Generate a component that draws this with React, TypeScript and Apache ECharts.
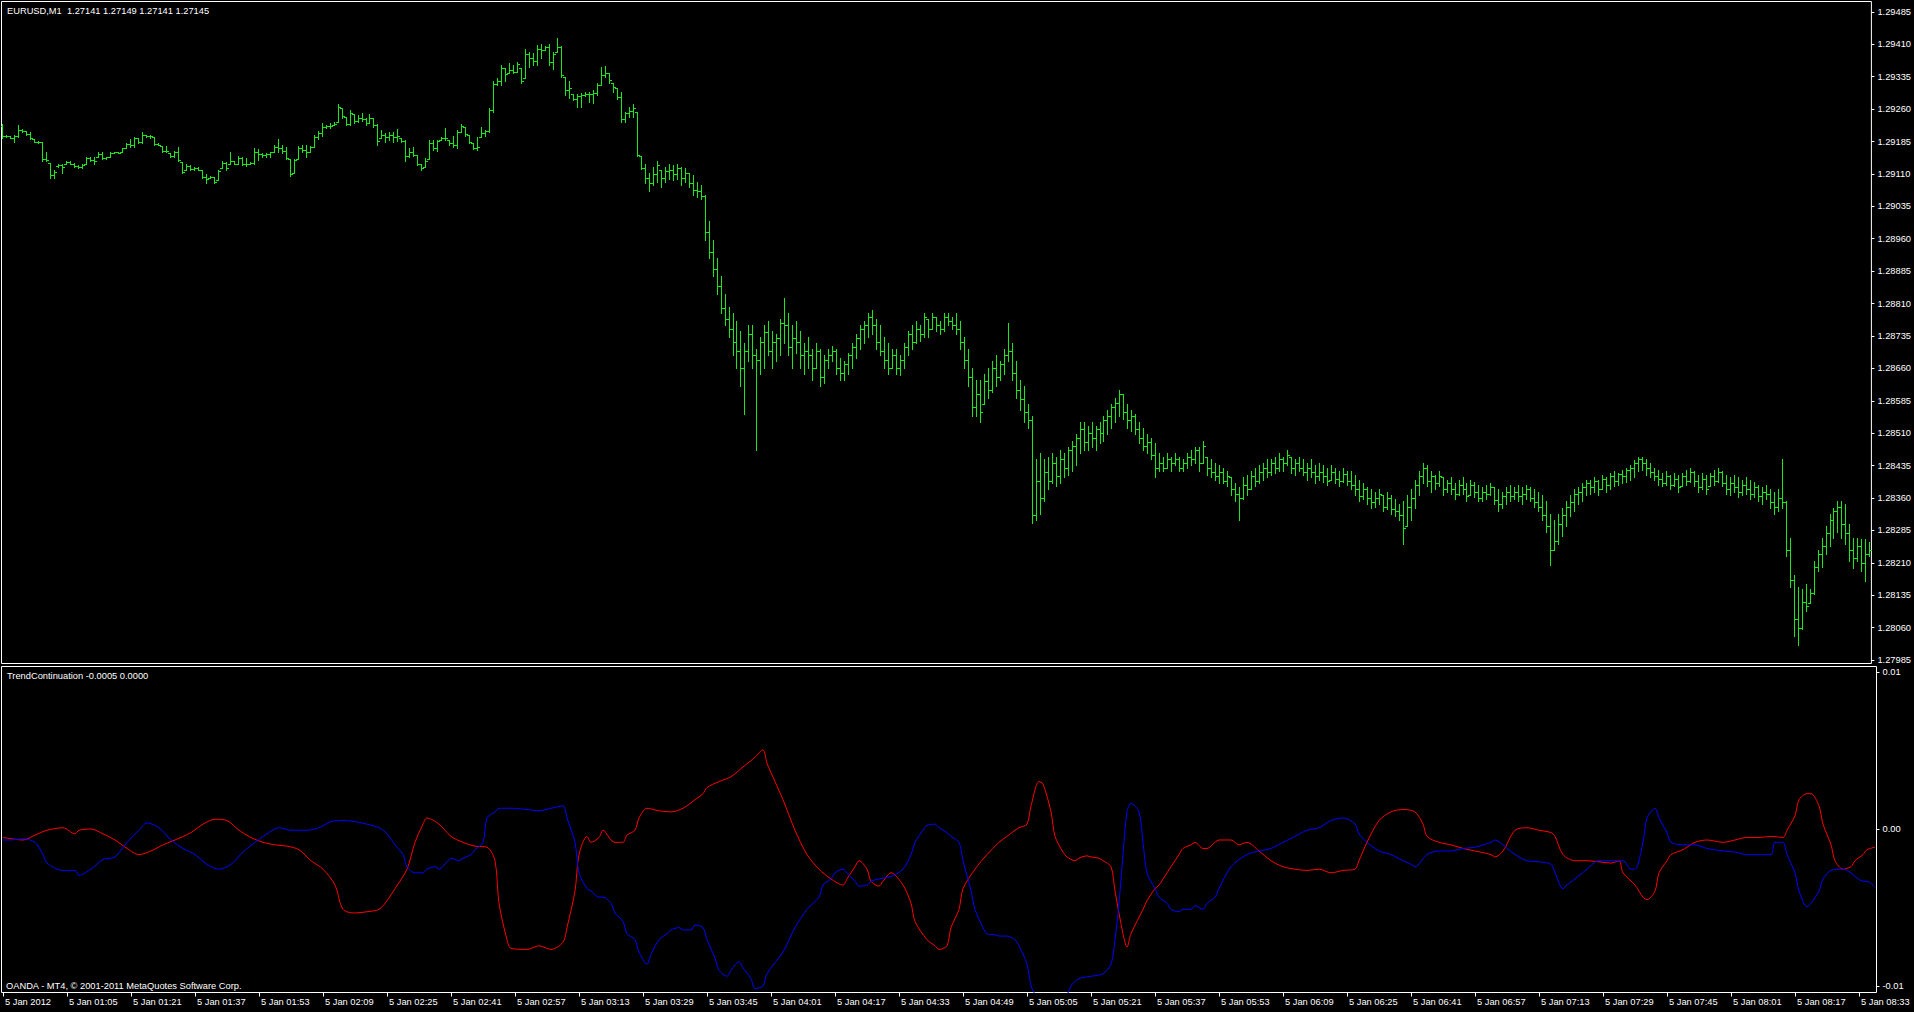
import React, { useEffect, useRef } from "react";
import * as echarts from "echarts";

// Prices are stored in points (0.00001) above BASE_PRICE
const BASE_PRICE = 1.27;

const barHigh = [
  2226,2200,2198,2200,2223,2214,2209,2206,2191,2186,
  2185,2160,2136,2119,2132,2132,2140,2140,2136,2131,
  2134,2150,2148,2150,2160,2160,2150,2161,2161,2161,
  2171,2181,2191,2196,2192,2206,2200,2200,2196,2181,
  2175,2175,2158,2163,2173,2137,2132,2131,2127,2127,
  2119,2109,2106,2104,2119,2140,2138,2161,2140,2152,
  2150,2146,2137,2169,2168,2158,2158,2161,2178,2191,
  2178,2173,2145,2145,2175,2177,2177,2175,2200,2209,
  2227,2223,2227,2229,2272,2262,2241,2257,2249,2247,
  2250,2239,2249,2239,2226,2212,2204,2208,2208,2215,
  2193,2189,2170,2172,2154,2133,2146,2189,2189,2189,
  2195,2216,2189,2198,2212,2226,2218,2200,2181,2195,
  2218,2212,2262,2324,2331,2362,2354,2366,2362,2370,
  2354,2398,2391,2389,2408,2411,2406,2411,2393,2424,
  2406,2335,2324,2295,2295,2298,2300,2300,2304,2320,
  2357,2360,2343,2320,2308,2300,2254,2264,2272,2254,
  2152,2133,2113,2127,2141,2120,2127,2134,2130,2133,
  2127,2124,2113,2108,2091,2085,2062,2000,1958,1915,
  1873,1831,1803,1789,1769,1746,1718,1760,1760,1704,
  1732,1760,1769,1746,1740,1774,1822,1789,1760,1769,
  1746,1718,1732,1704,1718,1704,1690,1704,1712,1704,
  1684,1676,1695,1718,1740,1760,1769,1789,1794,1774,
  1760,1732,1718,1704,1704,1690,1718,1746,1760,1769,
  1760,1789,1774,1789,1780,1769,1789,1789,1780,1789,
  1769,1732,1704,1662,1633,1633,1648,1662,1676,1690,
  1676,1704,1766,1718,1676,1633,1619,1577,1549,1450,
  1464,1450,1456,1464,1456,1470,1464,1478,1493,1507,
  1535,1535,1527,1535,1527,1535,1549,1563,1577,1591,
  1611,1600,1577,1563,1555,1535,1521,1507,1498,1487,
  1464,1456,1464,1456,1464,1456,1450,1464,1470,1478,
  1478,1493,1456,1450,1442,1436,1430,1422,1408,1394,
  1386,1408,1413,1422,1430,1436,1442,1450,1450,1456,
  1464,1456,1470,1456,1450,1456,1450,1442,1450,1436,
  1442,1436,1430,1436,1430,1422,1430,1422,1422,1413,
  1402,1394,1386,1380,1374,1380,1366,1374,1366,1358,
  1346,1352,1366,1380,1402,1422,1442,1436,1422,1413,
  1422,1408,1402,1408,1394,1402,1408,1394,1402,1397,
  1391,1386,1391,1394,1386,1380,1374,1386,1391,1386,
  1391,1386,1391,1386,1380,1374,1366,1352,1323,1309,
  1323,1337,1352,1366,1380,1386,1394,1402,1402,1408,
  1402,1413,1408,1419,1422,1419,1425,1430,1436,1447,
  1456,1456,1450,1442,1430,1425,1419,1422,1413,1419,
  1413,1419,1425,1430,1422,1413,1419,1413,1419,1425,
  1430,1422,1413,1408,1413,1408,1402,1408,1402,1397,
  1391,1386,1391,1380,1374,1380,1450,1352,1267,1182,
  1154,1149,1161,1149,1214,1239,1267,1295,1323,1337,
  1352,1352,1346,1299,1267,1267,1265,1265,1258,
];

const barLow = [
  2192,2195,2192,2185,2196,2206,2200,2191,2183,2181,
  2141,2140,2101,2101,2126,2111,2132,2132,2126,2123,
  2124,2132,2140,2132,2150,2145,2145,2150,2158,2158,
  2160,2171,2173,2173,2181,2181,2196,2194,2178,2177,
  2160,2160,2150,2150,2140,2111,2119,2119,2119,2119,
  2101,2088,2100,2088,2096,2123,2119,2132,2132,2132,
  2131,2129,2132,2134,2142,2150,2150,2150,2160,2161,
  2158,2145,2106,2111,2145,2160,2150,2161,2173,2191,
  2197,2216,2216,2223,2231,2239,2223,2223,2227,2231,
  2233,2223,2227,2218,2177,2193,2185,2189,2185,2187,
  2185,2141,2150,2152,2131,2118,2127,2144,2166,2164,
  2189,2189,2177,2172,2170,2208,2198,2181,2167,2166,
  2195,2197,2208,2254,2316,2316,2326,2343,2343,2347,
  2320,2331,2358,2362,2362,2378,2397,2362,2352,2393,
  2335,2293,2285,2280,2266,2266,2290,2277,2274,2293,
  2316,2335,2320,2300,2283,2231,2229,2241,2241,2152,
  2121,2090,2071,2085,2091,2079,2091,2099,2096,2099,
  2085,2091,2079,2062,2056,2051,1958,1915,1873,1831,
  1789,1760,1732,1690,1662,1619,1555,1676,1662,1470,
  1648,1662,1690,1662,1676,1690,1718,1690,1662,1695,
  1662,1648,1662,1633,1662,1619,1627,1662,1676,1648,
  1633,1633,1648,1662,1684,1704,1718,1732,1740,1704,
  1690,1662,1648,1662,1648,1645,1662,1690,1704,1718,
  1724,1732,1732,1752,1746,1740,1746,1760,1752,1740,
  1704,1662,1619,1549,1549,1535,1577,1591,1605,1619,
  1633,1648,1676,1633,1591,1563,1535,1521,1301,1309,
  1323,1352,1380,1394,1388,1394,1408,1413,1422,1436,
  1464,1470,1470,1478,1470,1487,1493,1507,1521,1535,
  1549,1543,1521,1515,1507,1487,1470,1464,1450,1408,
  1422,1422,1430,1422,1436,1422,1422,1430,1436,1442,
  1422,1442,1413,1408,1402,1394,1394,1388,1366,1352,
  1309,1358,1366,1380,1388,1394,1402,1408,1413,1419,
  1422,1422,1436,1419,1413,1422,1413,1402,1408,1394,
  1402,1397,1391,1402,1394,1388,1397,1391,1380,1366,
  1352,1358,1346,1337,1340,1346,1330,1335,1323,1318,
  1309,1253,1295,1309,1337,1366,1394,1388,1374,1380,
  1388,1366,1374,1369,1358,1366,1369,1352,1366,1363,
  1352,1352,1358,1366,1346,1330,1337,1346,1352,1358,
  1352,1346,1358,1352,1340,1330,1309,1281,1205,1239,
  1253,1273,1295,1318,1330,1346,1352,1366,1369,1374,
  1366,1380,1374,1380,1388,1391,1394,1397,1402,1408,
  1422,1425,1413,1408,1402,1391,1388,1391,1380,1388,
  1374,1388,1391,1397,1388,1374,1380,1369,1388,1391,
  1397,1388,1369,1366,1374,1363,1366,1369,1358,1363,
  1352,1346,1358,1337,1323,1330,1337,1225,1154,1041,
  1019,1057,1098,1117,1138,1191,1200,1230,1250,1267,
  1281,1267,1253,1214,1198,1214,1191,1168,1225,
];

const barOpen = [
  2220,2198,2197,2194,2198,2212,2209,2203,2191,2185,
  2183,2145,2136,2108,2128,2130,2133,2138,2134,2128,
  2125,2132,2146,2142,2150,2156,2147,2150,2159,2160,
  2160,2171,2180,2176,2192,2184,2200,2198,2196,2180,
  2175,2164,2158,2152,2160,2137,2119,2128,2122,2124,
  2119,2104,2100,2102,2096,2123,2136,2132,2140,2134,
  2146,2134,2132,2136,2160,2155,2154,2156,2160,2172,
  2170,2162,2145,2111,2145,2170,2166,2161,2173,2196,
  2204,2218,2220,2223,2231,2262,2241,2226,2249,2232,
  2240,2238,2228,2239,2224,2193,2200,2196,2200,2196,
  2193,2187,2152,2160,2154,2133,2127,2144,2182,2170,
  2189,2192,2189,2182,2176,2208,2218,2200,2181,2170,
  2195,2204,2210,2258,2318,2326,2354,2343,2350,2347,
  2354,2331,2388,2378,2372,2400,2397,2404,2368,2393,
  2404,2335,2304,2295,2284,2290,2292,2296,2294,2298,
  2316,2338,2343,2320,2308,2288,2236,2250,2256,2254,
  2152,2124,2100,2090,2110,2120,2100,2116,2120,2110,
  2124,2100,2112,2090,2072,2070,2060,1975,1930,1890,
  1850,1800,1775,1750,1720,1700,1660,1700,1740,1690,
  1680,1720,1745,1700,1720,1730,1765,1760,1710,1730,
  1720,1690,1700,1690,1662,1700,1640,1680,1690,1700,
  1660,1650,1670,1690,1710,1730,1750,1760,1780,1760,
  1720,1700,1680,1662,1690,1660,1680,1710,1740,1720,
  1750,1740,1774,1752,1780,1760,1750,1780,1770,1760,
  1750,1720,1680,1640,1570,1600,1577,1630,1610,1660,
  1640,1670,1690,1700,1650,1610,1590,1560,1540,1320,
  1400,1360,1420,1400,1440,1410,1450,1430,1470,1480,
  1500,1520,1490,1510,1500,1520,1510,1540,1550,1570,
  1580,1600,1560,1540,1550,1520,1500,1480,1490,1460,
  1430,1440,1430,1450,1440,1450,1430,1440,1455,1450,
  1470,1442,1456,1430,1420,1410,1420,1400,1408,1380,
  1370,1360,1390,1380,1410,1400,1420,1430,1420,1440,
  1430,1450,1440,1456,1430,1440,1430,1420,1430,1420,
  1410,1420,1410,1402,1420,1405,1400,1415,1400,1390,
  1380,1365,1380,1360,1350,1360,1366,1340,1360,1335,
  1330,1320,1295,1340,1360,1390,1410,1430,1400,1410,
  1395,1408,1380,1395,1380,1370,1390,1380,1366,1390,
  1375,1360,1375,1370,1385,1355,1345,1365,1375,1365,
  1375,1365,1370,1380,1360,1350,1340,1320,1295,1240,
  1260,1300,1320,1340,1350,1370,1375,1385,1395,1385,
  1400,1380,1405,1390,1410,1400,1415,1410,1425,1430,
  1440,1450,1440,1430,1420,1410,1405,1395,1410,1390,
  1405,1388,1410,1400,1420,1400,1385,1405,1388,1410,
  1400,1420,1395,1380,1395,1385,1375,1390,1380,1370,
  1385,1365,1375,1370,1350,1340,1360,1350,1240,1170,
  1080,1060,1120,1117,1140,1200,1230,1250,1280,1310,
  1330,1340,1300,1280,1240,1220,1250,1210,1230,
];

const barClose = [
  2198,2197,2194,2198,2212,2210,2203,2193,2185,2183,
  2145,2142,2108,2115,2130,2126,2138,2134,2128,2125,
  2130,2146,2142,2140,2156,2147,2148,2159,2160,2159,
  2170,2180,2176,2192,2184,2200,2198,2197,2180,2178,
  2164,2162,2152,2160,2142,2115,2128,2122,2124,2120,
  2104,2098,2102,2092,2116,2136,2124,2140,2134,2146,
  2134,2132,2136,2160,2155,2154,2156,2160,2172,2170,
  2162,2146,2110,2142,2170,2166,2160,2172,2196,2204,
  2218,2220,2222,2226,2266,2244,2226,2250,2232,2240,
  2238,2228,2240,2224,2186,2200,2196,2200,2196,2198,
  2187,2152,2160,2154,2134,2124,2140,2182,2170,2186,
  2192,2194,2182,2176,2208,2222,2202,2184,2170,2172,
  2204,2210,2258,2318,2326,2356,2342,2350,2346,2364,
  2326,2388,2378,2372,2400,2396,2404,2368,2388,2404,
  2340,2304,2308,2284,2290,2292,2296,2294,2298,2316,
  2338,2344,2328,2310,2288,2236,2250,2256,2262,2154,
  2124,2100,2090,2110,2130,2100,2116,2120,2110,2124,
  2100,2112,2090,2072,2070,2060,1975,1930,1890,1850,
  1800,1775,1750,1720,1700,1660,1700,1740,1690,1680,
  1720,1745,1700,1720,1730,1765,1760,1710,1730,1720,
  1690,1700,1690,1660,1700,1640,1680,1690,1700,1660,
  1650,1670,1690,1710,1730,1750,1760,1780,1760,1720,
  1700,1680,1660,1690,1660,1680,1710,1740,1720,1750,
  1740,1780,1750,1780,1760,1750,1780,1770,1760,1750,
  1720,1680,1640,1570,1600,1560,1630,1610,1660,1640,
  1670,1690,1700,1650,1610,1590,1560,1540,1320,1400,
  1360,1420,1400,1440,1410,1450,1430,1470,1480,1500,
  1520,1490,1510,1500,1520,1510,1540,1550,1570,1580,
  1600,1560,1540,1550,1520,1500,1480,1490,1460,1430,
  1440,1430,1450,1440,1450,1430,1440,1455,1450,1470,
  1440,1480,1430,1420,1410,1420,1400,1410,1380,1370,
  1360,1390,1380,1410,1400,1420,1430,1420,1440,1430,
  1450,1440,1460,1430,1440,1430,1420,1430,1420,1410,
  1420,1410,1400,1420,1405,1400,1415,1400,1390,1380,
  1365,1380,1360,1350,1360,1370,1340,1360,1335,1330,
  1320,1290,1340,1360,1390,1410,1430,1400,1410,1395,
  1410,1380,1395,1380,1370,1390,1380,1365,1390,1375,
  1360,1375,1370,1385,1355,1345,1365,1375,1365,1375,
  1365,1370,1380,1360,1350,1340,1320,1295,1240,1260,
  1300,1320,1340,1350,1370,1375,1385,1395,1385,1400,
  1380,1405,1390,1410,1400,1415,1410,1425,1430,1440,
  1450,1440,1430,1420,1410,1405,1395,1410,1390,1405,
  1385,1410,1400,1420,1400,1385,1405,1380,1410,1400,
  1420,1395,1380,1395,1385,1375,1390,1380,1370,1385,
  1365,1375,1370,1350,1340,1360,1350,1240,1170,1080,
  1060,1120,1110,1140,1200,1230,1250,1280,1310,1330,
  1340,1300,1280,1240,1220,1250,1210,1230,1240,
];

// one time label every 16 one-minute bars
const LABEL_EVERY = 16;
const timeLabels = [
  "5 Jan 2012", "5 Jan 01:05", "5 Jan 01:21", "5 Jan 01:37", "5 Jan 01:53",
  "5 Jan 02:09", "5 Jan 02:25", "5 Jan 02:41", "5 Jan 02:57", "5 Jan 03:13",
  "5 Jan 03:29", "5 Jan 03:45", "5 Jan 04:01", "5 Jan 04:17", "5 Jan 04:33",
  "5 Jan 04:49", "5 Jan 05:05", "5 Jan 05:21", "5 Jan 05:37", "5 Jan 05:53",
  "5 Jan 06:09", "5 Jan 06:25", "5 Jan 06:41", "5 Jan 06:57", "5 Jan 07:13",
  "5 Jan 07:29", "5 Jan 07:45", "5 Jan 08:01", "5 Jan 08:17", "5 Jan 08:33",
];

const priceTickLabels = [
  "1.29485", "1.29410", "1.29335", "1.29260", "1.29185", "1.29110", "1.29035",
  "1.28960", "1.28885", "1.28810", "1.28735", "1.28660", "1.28585", "1.28510",
  "1.28435", "1.28360", "1.28285", "1.28210", "1.28135", "1.28060", "1.27985",
];

const indicatorTickValues = [0.01, 0, -0.01];
const indicatorTickLabels = ["0.01", "0.00", "-0.01"];

// [bar index, value]
const redLine = [
  [0,-0.00054],[2,-0.00062],[5,-0.0007],[8,-0.00039],[11,-0.00008],[15,0.00008],[18,-0.00031],[19,-0.00008],
  [22,0],[25,-0.00031],[28,-0.0007],[31,-0.00124],[34,-0.00163],[37,-0.0014],[40,-0.00101],[43,-0.0007],
  [47,-0.00023],[50,0.00031],[53,0.00062],[56,0.00054],[59,-0.00008],[62,-0.00054],[65,-0.00085],[68,-0.00101],
  [71,-0.00109],[74,-0.00132],[77,-0.00202],[80,-0.00256],[83,-0.00357],[85,-0.00512],[88,-0.00535],[91,-0.00527],
  [94,-0.00512],[96,-0.00457],[98,-0.0038],[101,-0.00256],[103,-0.00085],[105,0.00031],[106,0.0007],[109,0.00031],
  [112,-0.00047],[115,-0.00085],[118,-0.00109],[121,-0.00116],[123,-0.00202],[124,-0.00473],[126,-0.00705],[127,-0.0076],
  [131,-0.00767],[134,-0.00744],[137,-0.00767],[140,-0.00721],[141,-0.00628],[143,-0.00395],[144,-0.00163],[146,-0.00047],
  [147,-0.00085],[149,-0.00054],[150,-0.00008],[152,-0.0007],[153,-0.00085],[155,-0.00085],[156,-0.00039],[158,-0.00008],
  [159,0.0007],[161,0.00132],[164,0.00116],[167,0.00109],[170,0.00132],[173,0.00186],[175,0.00225],[176,0.00264],
  [179,0.00302],[182,0.00333],[185,0.00395],[188,0.00457],[190,0.00504],[191,0.00419],[193,0.00302],[195,0.00186],
  [198,-0.00008],[201,-0.00163],[204,-0.00256],[207,-0.00318],[210,-0.00357],[211,-0.00318],[213,-0.0024],[214,-0.00202],
  [216,-0.00256],[217,-0.00333],[219,-0.00364],[220,-0.00333],[222,-0.00279],[225,-0.00357],[227,-0.00473],[228,-0.00589],
  [231,-0.00705],[233,-0.00744],[234,-0.00767],[236,-0.00744],[237,-0.00628],[239,-0.00512],[240,-0.0038],[243,-0.00256],
  [246,-0.00163],[249,-0.00085],[251,-0.00047],[253,-0.00008],[254,0.00008],[256,0.00031],[257,0.00147],[259,0.00302],
  [260,0.00287],[262,0.00109],[263,-0.00047],[265,-0.00147],[266,-0.00178],[268,-0.00202],[269,-0.00186],[271,-0.00171],
  [272,-0.00178],[274,-0.00186],[275,-0.00202],[277,-0.0024],[278,-0.00395],[280,-0.00667],[281,-0.00752],[282,-0.00667],
  [285,-0.00512],[286,-0.00457],[288,-0.0038],[289,-0.00357],[291,-0.00279],[292,-0.0024],[294,-0.00163],[295,-0.00124],
  [297,-0.00101],[298,-0.00085],[300,-0.00124],[301,-0.00124],[303,-0.00085],[304,-0.0007],[307,-0.0007],[309,-0.00101],
  [311,-0.00085],[314,-0.0014],[317,-0.00202],[320,-0.0024],[323,-0.00256],[326,-0.00264],[329,-0.00256],[332,-0.00279],
  [335,-0.00264],[338,-0.00256],[339,-0.00202],[341,-0.00085],[344,0.00054],[347,0.00109],[350,0.00124],[353,0.00109],
  [355,0.00031],[356,-0.00047],[359,-0.00085],[362,-0.00101],[365,-0.00124],[368,-0.0014],[372,-0.00163],[373,-0.00178],
  [375,-0.0014],[378,-0.00008],[381,0.00008],[384,-0.00008],[387,-0.00023],[388,-0.00047],[390,-0.00163],[393,-0.00202],
  [396,-0.00202],[399,-0.00209],[402,-0.00217],[404,-0.00202],[405,-0.00279],[408,-0.00357],[410,-0.00434],[411,-0.0045],
  [413,-0.00395],[414,-0.00279],[416,-0.00202],[417,-0.00163],[420,-0.00132],[423,-0.00085],[426,-0.0007],[430,-0.00085],
  [433,-0.0007],[436,-0.00054],[439,-0.00054],[442,-0.00047],[445,-0.00054],[446,-0.00008],[448,0.00085],[449,0.00186],
  [451,0.00225],[452,0.00225],[454,0.00147],[455,0.00031],[457,-0.00101],[458,-0.00202],[460,-0.00256],[462,-0.0024],
  [463,-0.00202],[465,-0.00163],[466,-0.00132],[468,-0.00116],
];

const blueLine = [
  [0,-0.0007],[2,-0.0007],[5,-0.00062],[8,-0.00085],[10,-0.00163],[11,-0.00217],[15,-0.00264],[18,-0.00264],
  [19,-0.00295],[22,-0.00256],[25,-0.00194],[28,-0.00178],[31,-0.00085],[34,-0.00008],[36,0.00039],[39,0.00008],
  [42,-0.0007],[45,-0.00124],[48,-0.00163],[51,-0.00225],[54,-0.00256],[57,-0.00225],[60,-0.00147],[63,-0.00085],
  [66,-0.00031],[69,0.00008],[72,-0.00008],[76,-0.00008],[79,0.00008],[82,0.00047],[85,0.00054],[88,0.00047],
  [91,0.00031],[94,0.00008],[96,-0.00031],[98,-0.00101],[100,-0.00163],[101,-0.0024],[103,-0.00279],[105,-0.00279],
  [106,-0.00256],[108,-0.0024],[109,-0.00256],[111,-0.00209],[112,-0.00186],[114,-0.00202],[115,-0.00186],[117,-0.00163],
  [118,-0.00132],[120,-0.00085],[121,0.0007],[123,0.00109],[124,0.00132],[127,0.00132],[131,0.00124],[134,0.00116],
  [137,0.00132],[140,0.00147],[141,0.0007],[143,-0.00085],[144,-0.00279],[146,-0.0038],[147,-0.00395],[149,-0.00434],
  [150,-0.00434],[152,-0.00473],[153,-0.00535],[155,-0.00589],[156,-0.00667],[158,-0.00705],[159,-0.00783],[161,-0.00861],
  [162,-0.00798],[164,-0.00705],[166,-0.00667],[167,-0.00643],[169,-0.00628],[170,-0.00643],[172,-0.00643],[173,-0.00612],
  [175,-0.00628],[176,-0.00705],[178,-0.00822],[179,-0.00899],[181,-0.00938],[182,-0.00899],[184,-0.00845],[185,-0.00884],
  [187,-0.00953],[188,-0.01016],[190,-0.01],[191,-0.00922],[195,-0.00783],[198,-0.00628],[201,-0.00512],[204,-0.00434],
  [205,-0.00357],[207,-0.00318],[208,-0.00279],[210,-0.00256],[211,-0.00279],[213,-0.00333],[214,-0.00364],[216,-0.00357],
  [217,-0.00333],[219,-0.00318],[222,-0.00302],[225,-0.00256],[227,-0.00163],[228,-0.00085],[230,-0.00008],[231,0.00023],
  [233,0.00031],[234,0.00008],[236,-0.00023],[237,-0.00047],[239,-0.00085],[240,-0.00202],[242,-0.00395],[243,-0.00512],
  [245,-0.00628],[246,-0.00667],[248,-0.00674],[249,-0.00682],[251,-0.00682],[253,-0.00705],[254,-0.00744],[256,-0.00861],
  [257,-0.01],[258,-0.01054],[260,-0.0117],[263,-0.0121],[265,-0.0113],[267,-0.01],[269,-0.00953],[272,-0.00938],
  [275,-0.00922],[277,-0.00861],[278,-0.00705],[279,-0.00473],[280,-0.00163],[281,0.00109],[282,0.00163],[284,0.00109],
  [285,-0.00085],[286,-0.00279],[288,-0.0038],[289,-0.00434],[291,-0.00473],[292,-0.00512],[294,-0.00527],[295,-0.00512],
  [297,-0.00512],[298,-0.00488],[300,-0.00512],[301,-0.00473],[303,-0.00434],[304,-0.0038],[307,-0.0024],[311,-0.00163],
  [314,-0.0014],[317,-0.00124],[320,-0.00085],[323,-0.00047],[326,-0.00008],[329,0.00008],[332,0.00054],[335,0.0007],
  [338,0.00031],[339,-0.00031],[341,-0.00085],[344,-0.0014],[347,-0.00163],[350,-0.00202],[352,-0.00225],[353,-0.0024],
  [356,-0.00163],[359,-0.0014],[362,-0.0014],[365,-0.00124],[368,-0.00116],[372,-0.00085],[373,-0.0007],[375,-0.00101],
  [378,-0.00163],[381,-0.00202],[384,-0.00209],[387,-0.00225],[388,-0.00279],[390,-0.0038],[391,-0.00357],[393,-0.00318],
  [396,-0.00256],[399,-0.00202],[402,-0.00202],[405,-0.00202],[407,-0.00256],[408,-0.00256],[410,-0.00085],[411,0.0007],
  [413,0.00132],[414,0.0007],[416,-0.00023],[417,-0.00085],[420,-0.00101],[423,-0.00101],[426,-0.00124],[430,-0.0014],
  [433,-0.00147],[436,-0.00163],[439,-0.00163],[442,-0.00163],[443,-0.00085],[445,-0.00085],[446,-0.00163],[448,-0.00279],
  [449,-0.00395],[451,-0.00496],[452,-0.00473],[454,-0.00395],[455,-0.00318],[457,-0.00264],[460,-0.00256],[462,-0.00279],
  [463,-0.00302],[465,-0.00333],[466,-0.00333],[468,-0.00372],
];

const TITLE = "EURUSD,M1  1.27141 1.27149 1.27141 1.27145";
const INDICATOR_TITLE = "TrendContinuation -0.0005 0.0000";
const COPYRIGHT = "OANDA - MT4, \u00a9 2001-2011 MetaQuotes Software Corp.";

const FONT = '"Liberation Sans", Arial, sans-serif';
const FONT_SIZE = 9.3;
const GREEN = "#1ee61e";
const WHITE = "#ffffff";

export default function App() {
  const ref = useRef<HTMLDivElement>(null);

  useEffect(() => {
    document.body.style.margin = "0";
    document.body.style.background = "#000";
    const chart = echarts.init(ref.current as HTMLDivElement, null, { renderer: "svg" });

    const ohlc = barHigh.map((h, i) => [i, barOpen[i], h, barLow[i], barClose[i]]);
    const priceTicks = priceTickLabels.map((s) => Math.round((parseFloat(s) - BASE_PRICE) * 1e5));
    const timeTicks = timeLabels.map((_, k) => k * LABEL_EVERY);

    const xMin = -0.375;
    const xMax = 468.375;

    const renderItem = (params: any, api: any) => {
      const i = api.value(0);
      const pO = api.coord([i, api.value(1)]);
      const pH = api.coord([i, api.value(2)]);
      const pL = api.coord([i, api.value(3)]);
      const pC = api.coord([i, api.value(4)]);
      const x = Math.floor(pH[0]);
      const yTop = Math.round(pH[1]);
      const yBot = Math.round(pL[1]);
      const style = { fill: GREEN };
      return {
        type: "group",
        children: [
          { type: "rect", shape: { x, y: yTop, width: 1, height: Math.max(1, yBot - yTop + 1) }, style },
          { type: "rect", shape: { x: x - 2, y: Math.round(pO[1]), width: 2, height: 1 }, style },
          { type: "rect", shape: { x: x + 1, y: Math.round(pC[1]), width: 2, height: 1 }, style },
        ],
      };
    };

    const labelStyle = { color: WHITE, fontSize: FONT_SIZE, fontFamily: FONT };

    const option: any = {
      animation: false,
      backgroundColor: "#000",
      grid: [
        { left: 1.5, top: 1.5, width: 1875, height: 662, show: true, borderColor: WHITE, borderWidth: 1, backgroundColor: "transparent" },
        { left: 1.5, top: 666.5, width: 1875, height: 326, show: true, borderColor: WHITE, borderWidth: 1, backgroundColor: "transparent" },
      ],
      xAxis: [
        { type: "value", gridIndex: 0, min: xMin, max: xMax, show: false, axisLine: { onZero: false } },
        {
          type: "value",
          gridIndex: 1,
          min: xMin,
          max: xMax,
          position: "bottom",
          axisLine: { show: false, onZero: false },
          splitLine: { show: false },
          axisTick: { show: true, customValues: timeTicks, length: 4, lineStyle: { color: WHITE, width: 1 } },
          axisLabel: {
            ...labelStyle,
            customValues: timeTicks,
            formatter: (v: number) => timeLabels[Math.round(v / LABEL_EVERY)] ?? "",
            align: "left",
            margin: 5,
            padding: [0, 0, 0, 2],
            hideOverlap: false,
          },
        },
      ],
      yAxis: [
        {
          type: "value",
          gridIndex: 0,
          position: "right",
          min: 977,
          max: 2509,
          splitLine: { show: false },
          axisLine: { show: false, onZero: false },
          axisTick: { show: true, customValues: priceTicks, length: 3, lineStyle: { color: WHITE } },
          axisLabel: {
            ...labelStyle,
            customValues: priceTicks,
            formatter: (v: number) => {
              const k = priceTicks.indexOf(Math.round(v));
              return k >= 0 ? priceTickLabels[k] : "";
            },
            margin: 6,
          },
        },
        {
          type: "value",
          gridIndex: 1,
          position: "right",
          min: -0.010414,
          max: 0.01035,
          splitLine: { show: false },
          axisLine: { show: false, onZero: false },
          axisTick: { show: true, customValues: indicatorTickValues, length: 3, lineStyle: { color: WHITE } },
          axisLabel: {
            ...labelStyle,
            customValues: indicatorTickValues,
            formatter: (v: number) => {
              let best = 0;
              indicatorTickValues.forEach((t, k) => {
                if (Math.abs(t - v) < Math.abs(indicatorTickValues[best] - v)) best = k;
              });
              return indicatorTickLabels[best];
            },
            margin: 6,
          },
        },
      ],
      series: [
        {
          type: "custom",
          xAxisIndex: 0,
          yAxisIndex: 0,
          data: ohlc,
          encode: { x: 0, y: [1, 2, 3, 4] },
          renderItem,
          clip: true,
          silent: true,
        },
        {
          type: "line",
          xAxisIndex: 1,
          yAxisIndex: 1,
          data: redLine,
          showSymbol: false,
          smooth: 0.3,
          lineStyle: { color: "#ff0000", width: 1 },
          itemStyle: { color: "#ff0000" },
          clip: true,
          silent: true,
        },
        {
          type: "line",
          xAxisIndex: 1,
          yAxisIndex: 1,
          data: blueLine,
          showSymbol: false,
          smooth: 0.3,
          lineStyle: { color: "#0000ff", width: 1 },
          itemStyle: { color: "#0000ff" },
          clip: true,
          silent: true,
        },
      ],
      graphic: [
        { type: "text", left: 7, top: 6, silent: true, style: { text: TITLE, fill: WHITE, fontSize: FONT_SIZE, fontFamily: FONT } },
        { type: "text", left: 7, top: 671, silent: true, style: { text: INDICATOR_TITLE, fill: WHITE, fontSize: FONT_SIZE, fontFamily: FONT } },
        { type: "text", left: 6, top: 981, silent: true, style: { text: COPYRIGHT, fill: WHITE, fontSize: FONT_SIZE, fontFamily: FONT } },
      ],
    };

    chart.setOption(option);
    return () => chart.dispose();
  }, []);

  return <div ref={ref} style={{ width: 1914, height: 1012, background: "#000" }} />;
}
